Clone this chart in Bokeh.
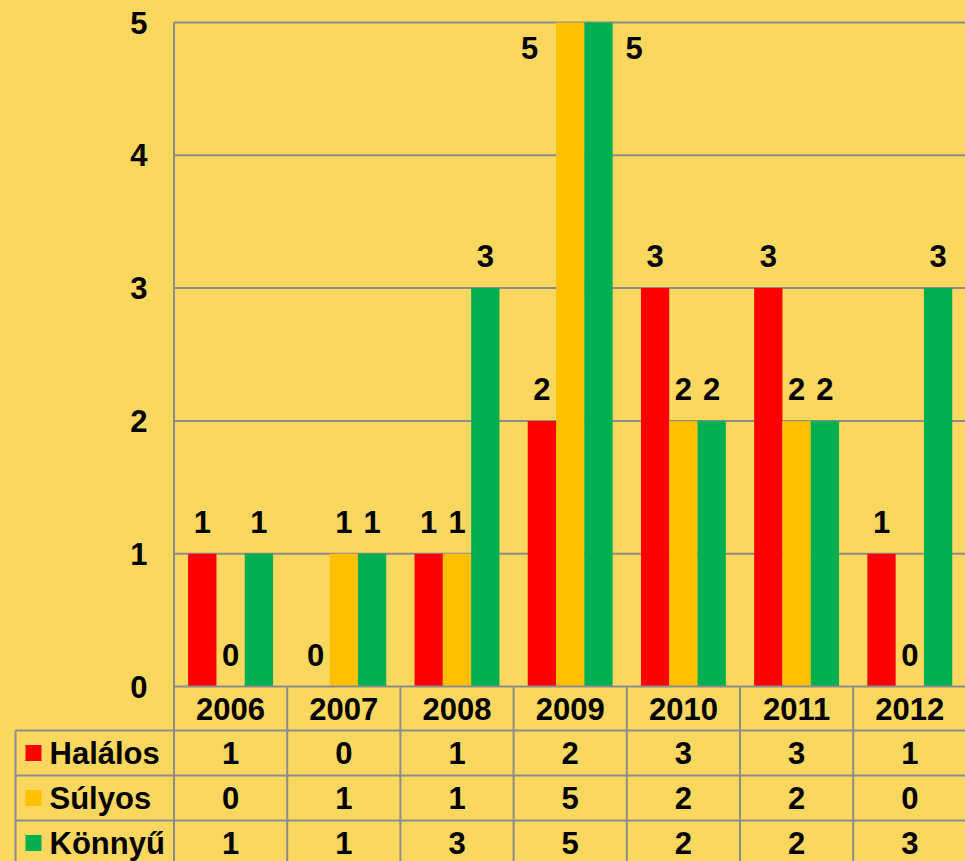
from bokeh.plotting import figure
from bokeh.models import Range1d
from bokeh.core.properties import value
from bokeh.embed import file_html
from bokeh.resources import INLINE

# ---- data ----
years = ["2006", "2007", "2008", "2009", "2010", "2011", "2012"]
series_names = ["Halálos", "Súlyos", "Könnyű"]
halalos = [1, 0, 1, 2, 3, 3, 1]
sulyos = [0, 1, 1, 5, 2, 2, 0]
konnyu = [1, 1, 3, 5, 2, 2, 3]
y_ticks = [0, 1, 2, 3, 4, 5]

series = [halalos, sulyos, konnyu]
colors = ["#FF0000", "#FFC000", "#00B050"]

BG = "#FAD75E"
GRID = "#8C8C8C"
FONT = value("Liberation Sans")
FS = value("31px")

# ---- layout (figure pixel coordinates) ----
W, H = 965, 861
X0 = 173.5      # left edge of plot area
CAT = 113.2     # pixels per category
Y0 = 686.0      # baseline (value 0)
UNIT = 132.8    # pixels per value unit
TABLE_LEFT = 15.0
ROW_EDGES = [686.0, 730.0, 775.0, 820.0, 865.0]


def px_x(px):
    return (px - X0) / CAT


def px_y(py):
    return (Y0 - py) / UNIT


n = len(years)
ymax = max(y_ticks)

p = figure(width=W, height=H,
           x_range=Range1d(px_x(0), px_x(W)),
           y_range=Range1d(px_y(H), px_y(0)),
           output_backend="svg", toolbar_location=None,
           x_axis_type=None, y_axis_type=None, min_border=0,
           background_fill_color=BG, border_fill_color=BG,
           outline_line_color=None)

# gridlines (plot area)
gt = [t for t in y_ticks if t > 0]
p.segment(x0=[0] * len(gt), y0=gt, x1=[n] * len(gt), y1=gt,
          line_color=GRID, line_width=2)

# bars
for k, (vals, col) in enumerate(zip(series, colors)):
    xs = [i + 0.25 + 0.25 * k for i in range(n)]
    p.vbar(x=xs, top=vals, bottom=0, width=0.25, fill_color=col,
           line_color=None)

# value labels above bars
for k, vals in enumerate(series):
    xs_c, ys_c, tx_c = [], [], []
    xs_s, ys_s, tx_s = [], [], []
    for i, v in enumerate(vals):
        x = i + 0.25 + 0.25 * k
        if v >= ymax:
            xs_s.append(x); ys_s.append(v); tx_s.append(str(v))
        else:
            xs_c.append(x); ys_c.append(v); tx_c.append(str(v))
    p.text(x=xs_c, y=ys_c, text=tx_c, text_align="center",
           text_baseline="middle", y_offset=-32,
           text_font=FONT, text_font_size=FS, text_font_style="bold",
           text_color="black")
    if xs_s:
        if k < 2:
            p.text(x=xs_s, y=ys_s, text=tx_s, text_align="right",
                   text_baseline="middle", x_offset=-32, y_offset=25,
                   text_font=FONT, text_font_size=FS,
                   text_font_style="bold", text_color="black")
        else:
            p.text(x=xs_s, y=ys_s, text=tx_s, text_align="left",
                   text_baseline="middle", x_offset=27, y_offset=25,
                   text_font=FONT, text_font_size=FS,
                   text_font_style="bold", text_color="black")

# y tick labels
p.text(x=[px_x(147)] * len(y_ticks), y=y_ticks,
       text=[str(t) for t in y_ticks], text_align="right",
       text_baseline="middle", text_font=FONT, text_font_size=FS,
       text_font_style="bold", text_color="black")

# ---- data table ----
ybot = px_y(H + 20)
# vertical line at plot left, full height
p.segment(x0=[0], y0=[ymax], x1=[0], y1=[ybot], line_color=GRID, line_width=2)
# category separators in table
p.segment(x0=list(range(1, n + 1)), y0=[0] * n, x1=list(range(1, n + 1)),
          y1=[ybot] * n, line_color=GRID, line_width=2)
# table left edge
p.segment(x0=[px_x(TABLE_LEFT)], y0=[px_y(ROW_EDGES[1])],
          x1=[px_x(TABLE_LEFT)], y1=[ybot], line_color=GRID, line_width=2)
# horizontal lines
p.segment(x0=[0], y0=[0], x1=[n], y1=[0], line_color=GRID, line_width=2)
hl = [px_y(r) for r in ROW_EDGES[1:4]]
p.segment(x0=[px_x(TABLE_LEFT)] * len(hl), y0=hl, x1=[n] * len(hl), y1=hl,
          line_color=GRID, line_width=2)

# header (years)
hy = px_y((ROW_EDGES[0] + ROW_EDGES[1]) / 2)
p.text(x=[i + 0.5 for i in range(n)], y=[hy] * n, text=years,
       text_align="center", text_baseline="middle", text_font=FONT,
       text_font_size=FS, text_font_style="bold", text_color="black")

# rows
for r, (name, vals, col) in enumerate(zip(series_names, series, colors)):
    ry = px_y((ROW_EDGES[r + 1] + ROW_EDGES[r + 2]) / 2)
    p.scatter(x=[px_x(33)], y=[ry], marker="square", size=16,
              fill_color=col, line_color=None)
    p.text(x=[px_x(49)], y=[ry], text=[name], text_align="left",
           text_baseline="middle", text_font=FONT, text_font_size=FS,
           text_font_style="bold", text_color="black")
    p.text(x=[i + 0.5 for i in range(n)], y=[ry] * n,
           text=[str(v) for v in vals], text_align="center",
           text_baseline="middle", text_font=FONT, text_font_size=FS,
           text_font_style="bold", text_color="black")

html = file_html(p, INLINE)
html = html.replace("</head>", "<style>html, body {background: %s;}</style></head>" % BG, 1)
open("out.html", "w").write(html)
